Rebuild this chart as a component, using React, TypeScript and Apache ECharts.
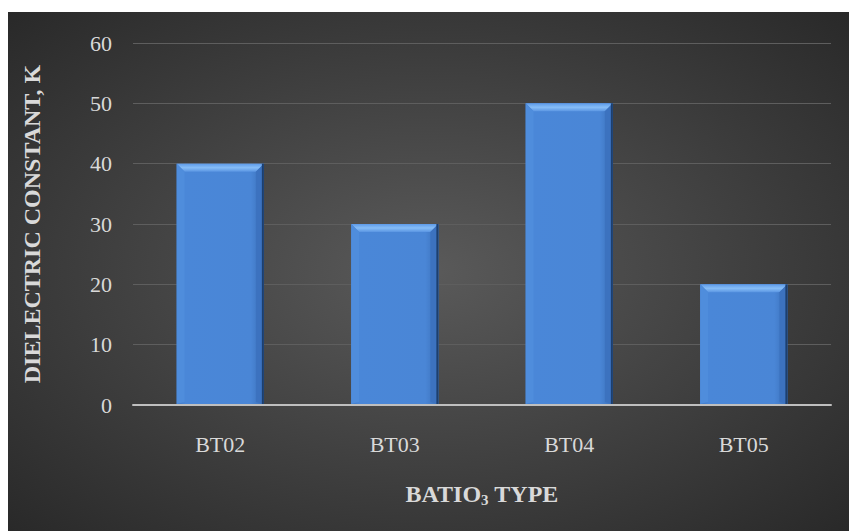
import React, { useEffect, useRef } from "react";
import * as echarts from "echarts";

const categories = ["BT02", "BT03", "BT04", "BT05"];
const values = [40, 30, 50, 20];
const yTicks = { min: 0, max: 60, interval: 10 };
const xTitle = "BATIO{sub|3} TYPE";
const yTitle = "DIELECTRIC CONSTANT, K";

export default function App() {
  const ref = useRef<HTMLDivElement>(null);
  useEffect(() => {
    const chart = echarts.init(ref.current!, null, { renderer: "svg" });
    const font = "'Liberation Serif', 'Times New Roman', serif";
    chart.setOption({
      animation: false,
      backgroundColor: new echarts.graphic.RadialGradient(0.5, 0.5, 0.75, [
        { offset: 0, color: "#5a5a5a" },
        { offset: 1, color: "#262626" },
      ]),
      grid: { left: 125, right: 18, top: 31, bottom: 126 },
      xAxis: {
        type: "category",
        data: categories,
        name: xTitle,
        nameLocation: "middle",
        nameGap: 75,
        nameTextStyle: {
          color: "#d9d9d9",
          fontFamily: font,
          fontSize: 24,
          fontWeight: "bold",
          rich: {
            sub: { fontSize: 15, fontWeight: "bold", color: "#d9d9d9", fontFamily: font, verticalAlign: "bottom", padding: [12, 0, 0, 0] },
          },
        },
        axisLine: { lineStyle: { color: "#bfbfbf", width: 2 } },
        axisTick: { show: false },
        axisLabel: { color: "#d9d9d9", fontFamily: font, fontSize: 22, margin: 28 },
      },
      yAxis: {
        type: "value",
        min: yTicks.min,
        max: yTicks.max,
        interval: yTicks.interval,
        name: yTitle,
        nameLocation: "middle",
        nameGap: 89,
        nameTextStyle: { color: "#d9d9d9", fontFamily: font, fontSize: 24, fontWeight: "bold" },
        axisLine: { show: false },
        axisTick: { show: false },
        axisLabel: { color: "#d9d9d9", fontFamily: font, fontSize: 22, margin: 21 },
        splitLine: { lineStyle: { color: "#5e5e5e", width: 1 } },
      },
      series: [
        {
          type: "custom",
          data: values.map((v, i) => [i, v]),
          encode: { x: 0, y: 1 },
          renderItem: (params: any, api: any) => {
            const x = api.value(0);
            const y = api.value(1);
            const top = api.coord([x, y]);
            const base = api.coord([x, 0]);
            const w = api.size([1, 0])[0] * 0.5;
            const x0 = top[0] - w / 2;
            const x1 = top[0] + w / 2;
            const y0 = top[1];
            const y1 = base[1] - 1;
            const b = 8;
            return {
              type: "group",
              children: [
                {
                  type: "rect",
                  shape: { x: x0, y: y0, width: w, height: y1 - y0 },
                  style: {
                    fill: new echarts.graphic.LinearGradient(0, 0, 1, 0, [
                      { offset: 0, color: "#3f78c4" },
                      { offset: 0.1, color: "#4a87d8" },
                      { offset: 0.85, color: "#4a86d6" },
                      { offset: 1, color: "#3a6fb8" },
                    ]),
                  },
                },
                {
                  type: "polygon",
                  shape: { points: [[x0, y0], [x1, y0], [x1 - b, y0 + b], [x0 + b, y0 + b]] },
                  style: {
                    fill: new echarts.graphic.LinearGradient(0, 0, 0, 1, [
                      { offset: 0, color: "#5d9ae8" },
                      { offset: 0.5, color: "#86bdf7" },
                      { offset: 1, color: "#5a95e2" },
                    ]),
                  },
                },
                {
                  type: "polygon",
                  shape: { points: [[x0, y0], [x0 + b, y0 + b], [x0 + b, y1 - 2], [x0, y1]] },
                  style: { fill: "#4f8ddc" },
                },
                {
                  type: "polygon",
                  shape: { points: [[x1, y0], [x1 - b, y0 + b], [x1 - b, y1 - 2], [x1, y1]] },
                  style: { fill: "#3c72bf" },
                },
                {
                  type: "rect",
                  shape: { x: x1 - 2, y: y0, width: 2, height: y1 - y0 },
                  style: { fill: "#1d3f6e" },
                },
              ],
            };
          },
        },
      ],
    });
    return () => chart.dispose();
  }, []);
  return (
    <div
      ref={ref}
      style={{ position: "absolute", left: 8, top: 12, width: 841, height: 519 }}
    />
  );
}
